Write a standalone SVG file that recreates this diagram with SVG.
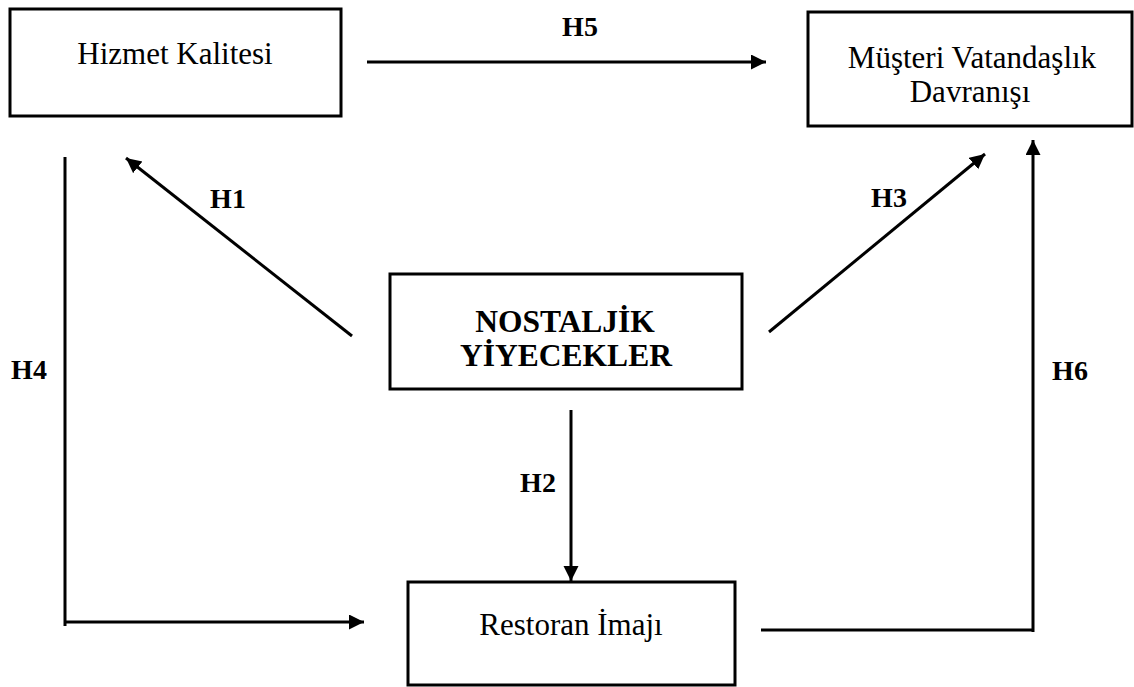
<svg xmlns="http://www.w3.org/2000/svg" width="1134" height="687" viewBox="0 0 1134 687">
<style>
.box{fill:#fff;stroke:#000;stroke-width:3}
.t{font-family:"Liberation Serif","Times New Roman",serif;font-size:31px;fill:#000;text-anchor:middle}
.b{font-weight:bold;font-size:31.5px}
.lbl{font-family:"Liberation Serif","Times New Roman",serif;font-size:28px;font-weight:bold;fill:#000;text-anchor:middle}
.c{fill:none;stroke:#000;stroke-width:3}
</style>
<defs>
<marker id="ah" markerUnits="userSpaceOnUse" markerWidth="16" markerHeight="16" refX="15" refY="7.5" orient="auto">
<path d="M0,0 L15,7.5 L0,15 z" fill="#000"/>
</marker>
</defs>
<rect width="1134" height="687" fill="#fff"/>
<g id="connectors">
<line class="c" x1="367" y1="62" x2="766" y2="62" marker-end="url(#ah)"/>
<line class="c" x1="352" y1="336" x2="126" y2="158" marker-end="url(#ah)"/>
<line class="c" x1="769" y1="332" x2="985" y2="154" marker-end="url(#ah)"/>
<line class="c" x1="571" y1="410" x2="571" y2="581" marker-end="url(#ah)"/>
<polyline class="c" points="65,157 65,626"/>
<line class="c" x1="65" y1="622" x2="364" y2="622" marker-end="url(#ah)"/>
<polyline class="c" points="761,630 1033,630"/>
<line class="c" x1="1033" y1="632" x2="1033" y2="140" marker-end="url(#ah)"/>
<text class="lbl" x="580" y="36">H5</text>
<text class="lbl" x="228" y="208">H1</text>
<text class="lbl" x="889" y="207">H3</text>
<text class="lbl" x="538" y="492">H2</text>
<text class="lbl" x="29" y="379">H4</text>
<text class="lbl" x="1070" y="380">H6</text>
</g>
<g id="hizmet">
<rect class="box" x="10" y="9" width="331" height="107"/>
<text class="t" x="175" y="64">Hizmet Kalitesi</text>
</g>
<g id="musteri">
<rect class="box" x="808" y="12" width="324" height="114"/>
<text class="t" x="972" y="68">Müşteri Vatandaşlık</text>
<text class="t" x="970" y="102">Davranışı</text>
</g>
<g id="nostaljik">
<rect class="box" x="390" y="274" width="352" height="115"/>
<text class="t b" x="565" y="332">NOSTALJİK</text>
<text class="t b" x="566" y="366">YİYECEKLER</text>
</g>
<g id="restoran">
<rect class="box" x="408" y="582" width="327" height="103"/>
<text class="t" x="571" y="635">Restoran İmajı</text>
</g>
</svg>
